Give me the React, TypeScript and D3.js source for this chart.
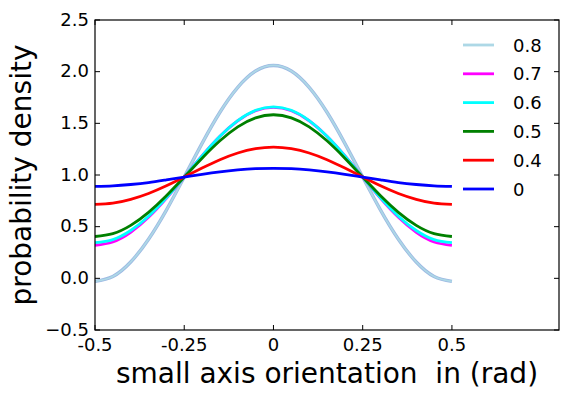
import React from "react";
import * as d3 from "d3";

const xs = [
  -0.5, -0.45, -0.4, -0.35, -0.3, -0.25, -0.2, -0.15, -0.1, -0.05, 0,
  0.05, 0.1, 0.15, 0.2, 0.25, 0.3, 0.35, 0.4, 0.45, 0.5,
];

const s08 = [-0.03, 0.018, 0.158, 0.378, 0.66, 0.98, 1.306, 1.607, 1.848, 2.006, 2.06,
  2.006, 1.848, 1.607, 1.306, 0.98, 0.66, 0.378, 0.158, 0.018, -0.03];
const s07 = [0.32, 0.352, 0.445, 0.59, 0.774, 0.98, 1.187, 1.375, 1.525, 1.622, 1.655,
  1.622, 1.525, 1.375, 1.187, 0.98, 0.774, 0.59, 0.445, 0.352, 0.32];
const s06 = [0.345, 0.375, 0.463, 0.601, 0.779, 0.98, 1.185, 1.374, 1.527, 1.626, 1.66,
  1.626, 1.527, 1.374, 1.185, 0.98, 0.779, 0.601, 0.463, 0.375, 0.345];
const s05 = [0.405, 0.433, 0.513, 0.639, 0.799, 0.98, 1.163, 1.331, 1.466, 1.553, 1.583,
  1.553, 1.466, 1.331, 1.163, 0.98, 0.799, 0.639, 0.513, 0.433, 0.405];
const s04 = [0.715, 0.727, 0.764, 0.821, 0.895, 0.98, 1.067, 1.148, 1.213, 1.255, 1.27,
  1.255, 1.213, 1.148, 1.067, 0.98, 0.895, 0.821, 0.764, 0.727, 0.715];
const s0 = [0.89, 0.895, 0.908, 0.927, 0.953, 0.98, 1.007, 1.031, 1.049, 1.061, 1.065,
  1.061, 1.049, 1.031, 1.007, 0.98, 0.953, 0.927, 0.908, 0.895, 0.89];

const seriesNames = ["0.8", "0.7", "0.6", "0.5", "0.4", "0"];
const seriesValues = [s08, s07, s06, s05, s04, s0];
const seriesColors = ["#add8e6", "#ff00ff", "#00ffff", "#008000", "#ff0000", "#0000ff"];

const xTicks = [-0.5, -0.25, 0, 0.25, 0.5];
const xTickLabels = ["-0.5", "-0.25", "0", "0.25", "0.5"];
const yTicks = [-0.5, 0, 0.5, 1, 1.5, 2, 2.5];

const W = 569;
const H = 399;
const m = { left: 95, right: 559, top: 20, bottom: 330 };
const font = "DejaVu Sans";

export default function App() {
  const x = d3.scaleLinear().domain([-0.5, 0.8]).range([m.left, m.right]);
  const y = d3.scaleLinear().domain([-0.5, 2.5]).range([m.bottom, m.top]);

  const line = d3
    .line<number>()
    .x((_, i) => x(xs[i]))
    .y((d) => y(d))
    .curve(d3.curveNatural);

  const tickLen = 5;
  const fmtY = (v: number) => d3.format(".1f")(v).replace("-", "\u2212");

  return (
    <svg
      width={W}
      height={H}
      style={{ position: "absolute", left: 0, top: 0, background: "#fff" }}
      fontFamily={font}
    >
      <rect x={0} y={0} width={W} height={H} fill="#fff" />
      <defs>
        <clipPath id="plot">
          <rect x={m.left} y={m.top} width={m.right - m.left} height={m.bottom - m.top} />
        </clipPath>
      </defs>

      <g clipPath="url(#plot)">
        {seriesValues.map((vals, i) => (
          <g key={seriesNames[i]}>
            {i === 0 && (
              <path d={line(vals) || ""} fill="none" stroke="#9db9e3" strokeWidth={3.4} />
            )}
            <path
              d={line(vals) || ""}
              fill="none"
              stroke={seriesColors[i]}
              strokeWidth={i === 0 ? 1.8 : 2.8}
            />
          </g>
        ))}
      </g>

      {/* frame */}
      <rect
        x={m.left}
        y={m.top}
        width={m.right - m.left}
        height={m.bottom - m.top}
        fill="none"
        stroke="#000"
        strokeWidth={1.2}
      />

      {/* x ticks */}
      {xTicks.map((t, i) => (
        <g key={"x" + t}>
          <line x1={x(t)} x2={x(t)} y1={m.bottom} y2={m.bottom - tickLen} stroke="#000" />
          <line x1={x(t)} x2={x(t)} y1={m.top} y2={m.top + tickLen} stroke="#000" />
          <text x={x(t)} y={m.bottom + 21} fontSize={18} textAnchor="middle">
            {xTickLabels[i]}
          </text>
        </g>
      ))}

      {/* y ticks */}
      {yTicks.map((t) => (
        <g key={"y" + t}>
          <line x1={m.left} x2={m.left + tickLen} y1={y(t)} y2={y(t)} stroke="#000" />
          <line x1={m.right} x2={m.right - tickLen} y1={y(t)} y2={y(t)} stroke="#000" />
          <text x={m.left - 6} y={y(t) + 5.5} fontSize={18} textAnchor="end">
            {fmtY(t)}
          </text>
        </g>
      ))}

      {/* axis labels */}
      <text
        x={(m.left + m.right) / 2}
        y={383}
        fontSize={28}
        textAnchor="middle"
        style={{ whiteSpace: "pre" }}
      >
        {"small axis orientation  in (rad)"}
      </text>
      <text
        transform={`translate(31,${(m.top + m.bottom) / 2}) rotate(-90)`}
        fontSize={28}
        textAnchor="middle"
      >
        probability density
      </text>

      {/* legend */}
      {seriesNames.map((name, i) => {
        const ly = 45 + i * 28.8;
        return (
          <g key={"lg" + name}>
            <line x1={463} x2={494} y1={ly} y2={ly} stroke={seriesColors[i]} strokeWidth={2.8} />
            <text x={513} y={ly + 6.5} fontSize={18}>
              {name}
            </text>
          </g>
        );
      })}
    </svg>
  );
}
